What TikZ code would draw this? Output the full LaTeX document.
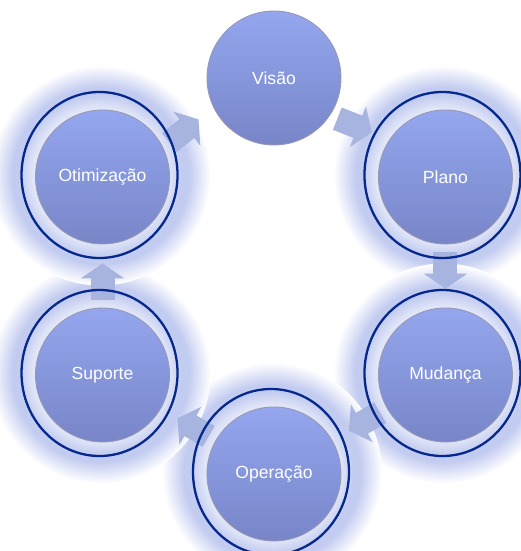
\documentclass[tikz,border=0pt]{standalone}
\usepackage{fontspec}
\newfontfamily\ballfont{Liberation Sans}
\usetikzlibrary{arrows.meta}
\definecolor{balltop}{RGB}{148,166,238}
\definecolor{ballbot}{RGB}{120,134,200}
\definecolor{ballrim}{RGB}{150,152,180}
\definecolor{haloin}{RGB}{224,229,247}
\definecolor{haloout}{RGB}{194,203,240}
\definecolor{linkblue}{RGB}{168,180,224}
\definecolor{ringblue}{RGB}{5,40,140}
\pgfdeclareradialshading{halo}{\pgfpoint{0bp}{0bp}}{color(0bp)=(haloin); color(15.5bp)=(haloin); color(18.5bp)=(haloout); color(20bp)=(haloout); color(25bp)=(white); color(50bp)=(white)}
\pgfdeclarelayer{glow}
\pgfdeclarelayer{links}
\pgfsetlayers{glow,links,main}
\tikzset{
  ball/.style={circle, minimum size=2.68cm, inner sep=0pt, top color=balltop, bottom color=ballbot,
    draw=ballrim, line width=0.5pt, text=white, font=\ballfont\fontsize{10}{12}\selectfont},
  ring/.style={draw=ringblue, line width=1.3pt},
  link/.style={draw=linkblue, line width=0.48cm, -{Triangle[length=0.3cm,width=0.86cm]},
    shorten <=0.16cm, shorten >=0.38cm}
}
\begin{document}
\begin{tikzpicture}
  \useasboundingbox (-5.48,-5.50) rectangle (4.94,5.52);
  \draw
    (90:3.96) node[ball] (vis) {Visão}
    (30:3.96) node[ball] (pla) {Plano}
    (-30:3.96) node[ball] (mud) {Mudança}
    (-90:3.96) node[ball] (ope) {Operação}
    (-150:3.96) node[ball] (sup) {Suporte}
    (150:3.96) node[ball] (oti) {Otimização};
  \foreach \n in {pla,mud,ope,sup,oti}
    \draw[ring] ([shift={(-0.06,0.04)}]\n.center) ellipse (1.56 and 1.66);
  \begin{pgfonlayer}{glow}
    \foreach \n in {pla,mud,ope,sup,oti}
      \shade[shading=halo] ([shift={(-0.04,0.03)}]\n.center) circle (2.2);
  \end{pgfonlayer}
  \begin{pgfonlayer}{links}
    \draw[link] (oti.26) -- (vis.206);
    \draw[link] (vis.-34) -- (pla.146);
    \draw[link] (pla.-90) -- (mud.90);
    \draw[link] (mud.-150) -- (ope.30);
    \draw[link] (ope.150) -- (sup.-30);
    \draw[link] (sup.90) -- (oti.-90);
  \end{pgfonlayer}
\end{tikzpicture}
\end{document}
